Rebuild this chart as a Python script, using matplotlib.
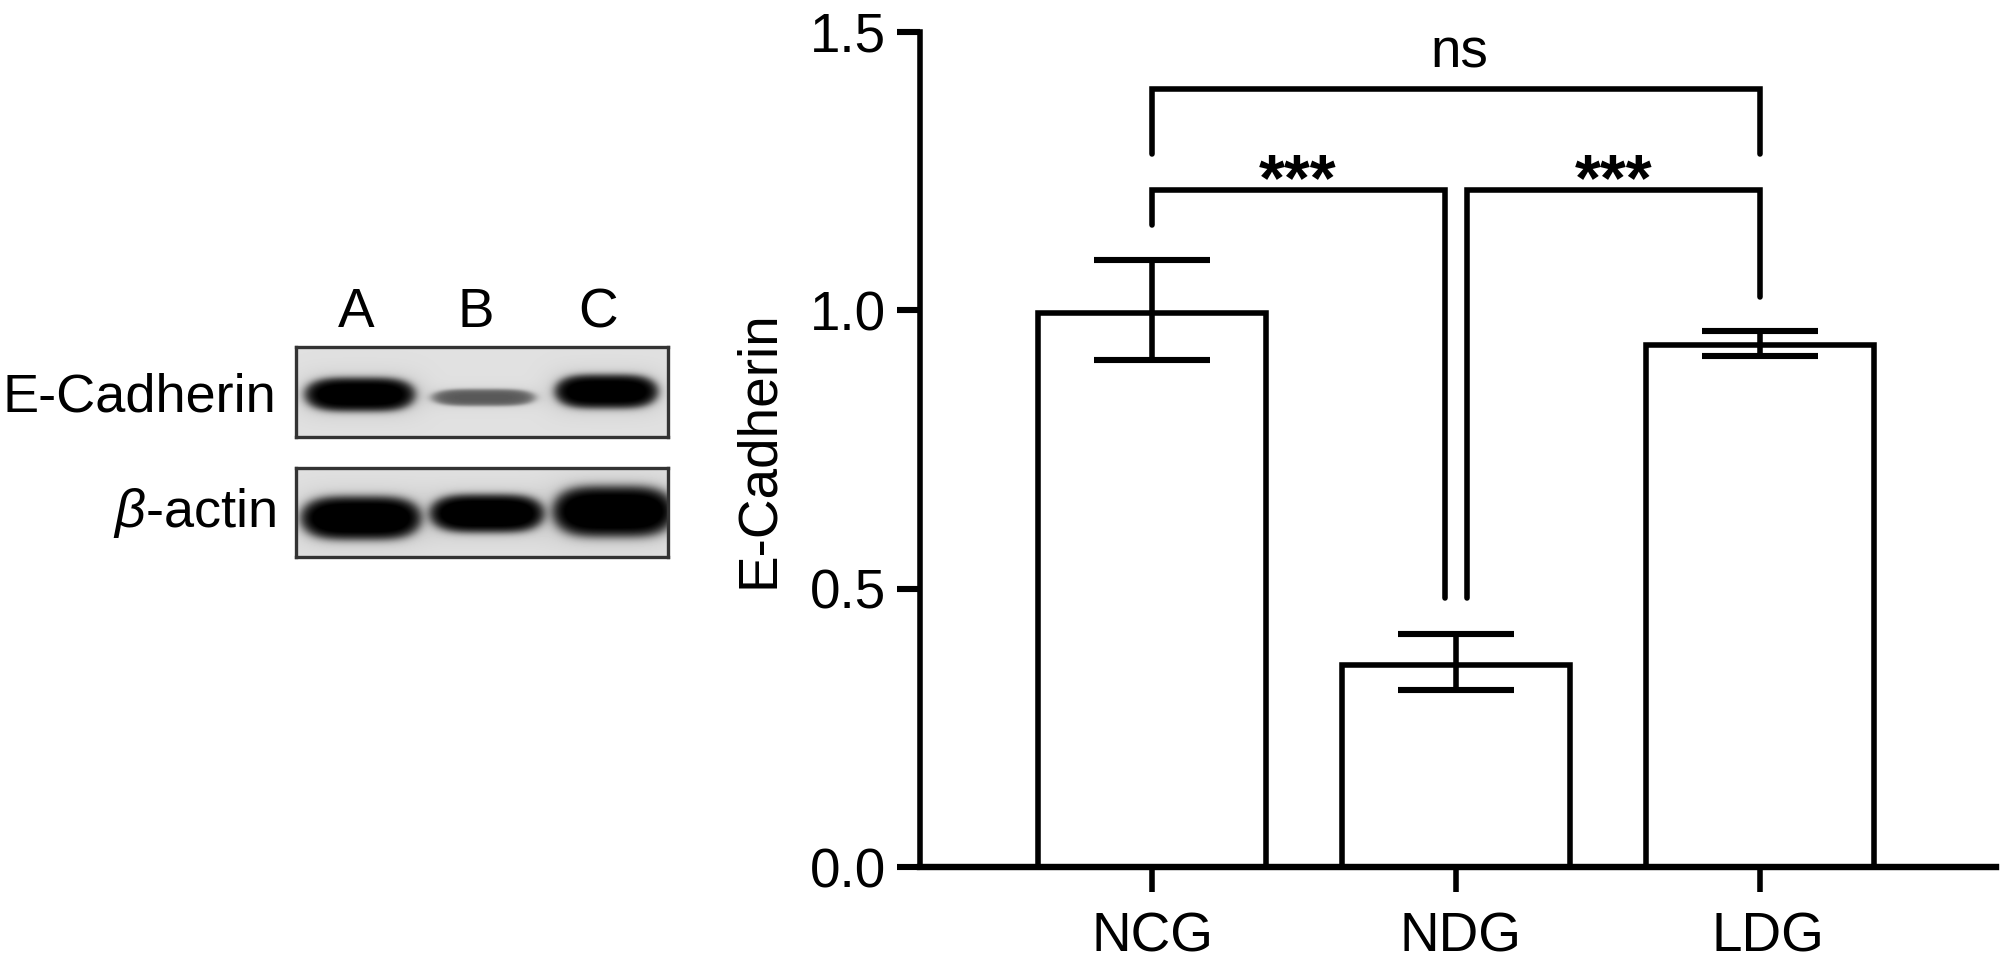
import numpy as np
import matplotlib
matplotlib.use('Agg')
import matplotlib.pyplot as plt
from matplotlib.transforms import ScaledTranslation

plt.rcParams['font.family'] = ['Liberation Sans', 'DejaVu Sans']
plt.rcParams['mathtext.fontset'] = 'custom'
plt.rcParams['mathtext.it'] = 'Liberation Sans:italic'
plt.rcParams['mathtext.rm'] = 'Liberation Sans'

# bar chart values
groups = ['NCG', 'NDG', 'LDG']
means = [0.995, 0.362, 0.938]
err_low = [0.085, 0.044, 0.02]
err_high = [0.095, 0.057, 0.024]
y_ticks = [0.0, 0.5, 1.0, 1.5]
y_tick_labels = ['0.0', '0.5', '1.0', '1.5']

# blot lanes
lane_labels = ['A', 'B', 'C']
ecad_darkness = [0.97, 0.55, 0.97]
actin_darkness = [1.0, 1.0, 1.0]

W, H = 2000, 965
FS = 39.5
fig = plt.figure(figsize=(W / 100, H / 100), dpi=100)


def rect(x0, y0, x1, y1):
    # pixel box of the picture -> figure fraction
    return [x0 / W, 1 - y1 / H, (x1 - x0) / W, (y1 - y0) / H]


def label(x, y, s, size=FS, **kw):
    fig.text(x / W, 1 - y / H, s, fontsize=size, color='black', **kw)


def draw_blot(box, bands, darkness):
    x0, y0, x1, y1 = box
    xx, yy = np.meshgrid(np.arange(x0, x1), np.arange(y0, y1))
    img = np.full(xx.shape, 0.88)
    for (bx0, bx1, by0, by1), dark in zip(bands, darkness):
        cx, cy = (bx0 + bx1) / 2, (by0 + by1) / 2
        rx, ry = (bx1 - bx0) / 2, (by1 - by0) / 2
        dd = (np.abs(xx - cx) / rx) ** 4 + (np.abs(yy - cy) / ry) ** 2
        core = 1 / (1 + np.exp((dd - 1) * 3.5))
        halo = np.exp(-np.maximum(dd - 1, 0) * 0.6) * 0.08
        img = img * (1 - np.clip(core * dark * 1.05 + halo * dark, 0, 1))
    ax = fig.add_axes(rect(x0, y0, x1, y1))
    ax.imshow(img, cmap='gray', vmin=0, vmax=1, aspect='auto', interpolation='bilinear')
    ax.set_xticks([])
    ax.set_yticks([])
    for s in ax.spines.values():
        s.set_linewidth(2.4)
        s.set_color('#333333')


draw_blot((296, 347, 668, 437),
          [(306, 413, 378, 410), (433, 533, 389, 405), (556, 656, 375, 407)],
          ecad_darkness)
draw_blot((296, 468, 668, 557),
          [(302, 419, 497, 538), (431, 542, 495, 531), (554, 672, 487, 535)],
          actin_darkness)

for x, name in zip([356, 476, 598], lane_labels):
    label(x, 327, name, ha='center', va='baseline')
label(276, 412, 'E-Cadherin', size=39, ha='right', va='baseline')
label(276, 527, r'$\mathit{\beta}$-actin', size=39, ha='right', va='baseline')
label(759, 449, 'E-Cadherin', ha='center', va='center', rotation=90)

# bar chart
ax = fig.add_axes(rect(920, 32, 1996, 867))
xpos = np.arange(len(groups))
lw = 4.0
ax.bar(xpos, means, width=0.75, facecolor='white', edgecolor='black', linewidth=lw)
ax.errorbar(xpos, means, yerr=[err_low, err_high], fmt='none', ecolor='black',
            elinewidth=lw, capsize=42, capthick=lw + 0.4)

ax.set_xlim(-0.763, 2.776)
ax.set_ylim(0, 1.5)
ax.set_xticks(xpos)
ax.set_xticklabels(groups)
ax.set_yticks(y_ticks)
ax.set_yticklabels(y_tick_labels)
ax.tick_params(axis='y', length=16.5, width=4.4, labelsize=FS, pad=8)
ax.tick_params(axis='x', length=18, width=lw, labelsize=FS, pad=14)
ax.spines['top'].set_visible(False)
ax.spines['right'].set_visible(False)
ax.spines['left'].set_linewidth(lw)
ax.spines['bottom'].set_linewidth(4.6)

# x labels sit a little right of their ticks in the original
for lbl, dx in zip(ax.get_xticklabels(), [1, 4, 8]):
    lbl.set_transform(lbl.get_transform() + ScaledTranslation(dx / 100, 0, fig.dpi_scale_trans))


def bracket(x0, x1, top, drop0, drop1):
    ax.plot([x0, x0, x1, x1], [drop0, top, top, drop1], color='black', lw=lw,
            solid_joinstyle='miter', solid_capstyle='round', clip_on=False)


bracket(0, 2, 1.397, 1.28, 1.28)
bracket(0, 0.965, 1.216, 1.154, 0.483)
bracket(1.035, 2, 1.216, 0.483, 1.024)

ax.text(1.01, 1.415, 'ns', ha='center', va='bottom', fontsize=FS)
ax.text(0.48, 1.228, '***', ha='center', va='center', fontsize=48, fontweight='bold')
ax.text(1.52, 1.228, '***', ha='center', va='center', fontsize=48, fontweight='bold')

fig.savefig('out.png', dpi=100)
